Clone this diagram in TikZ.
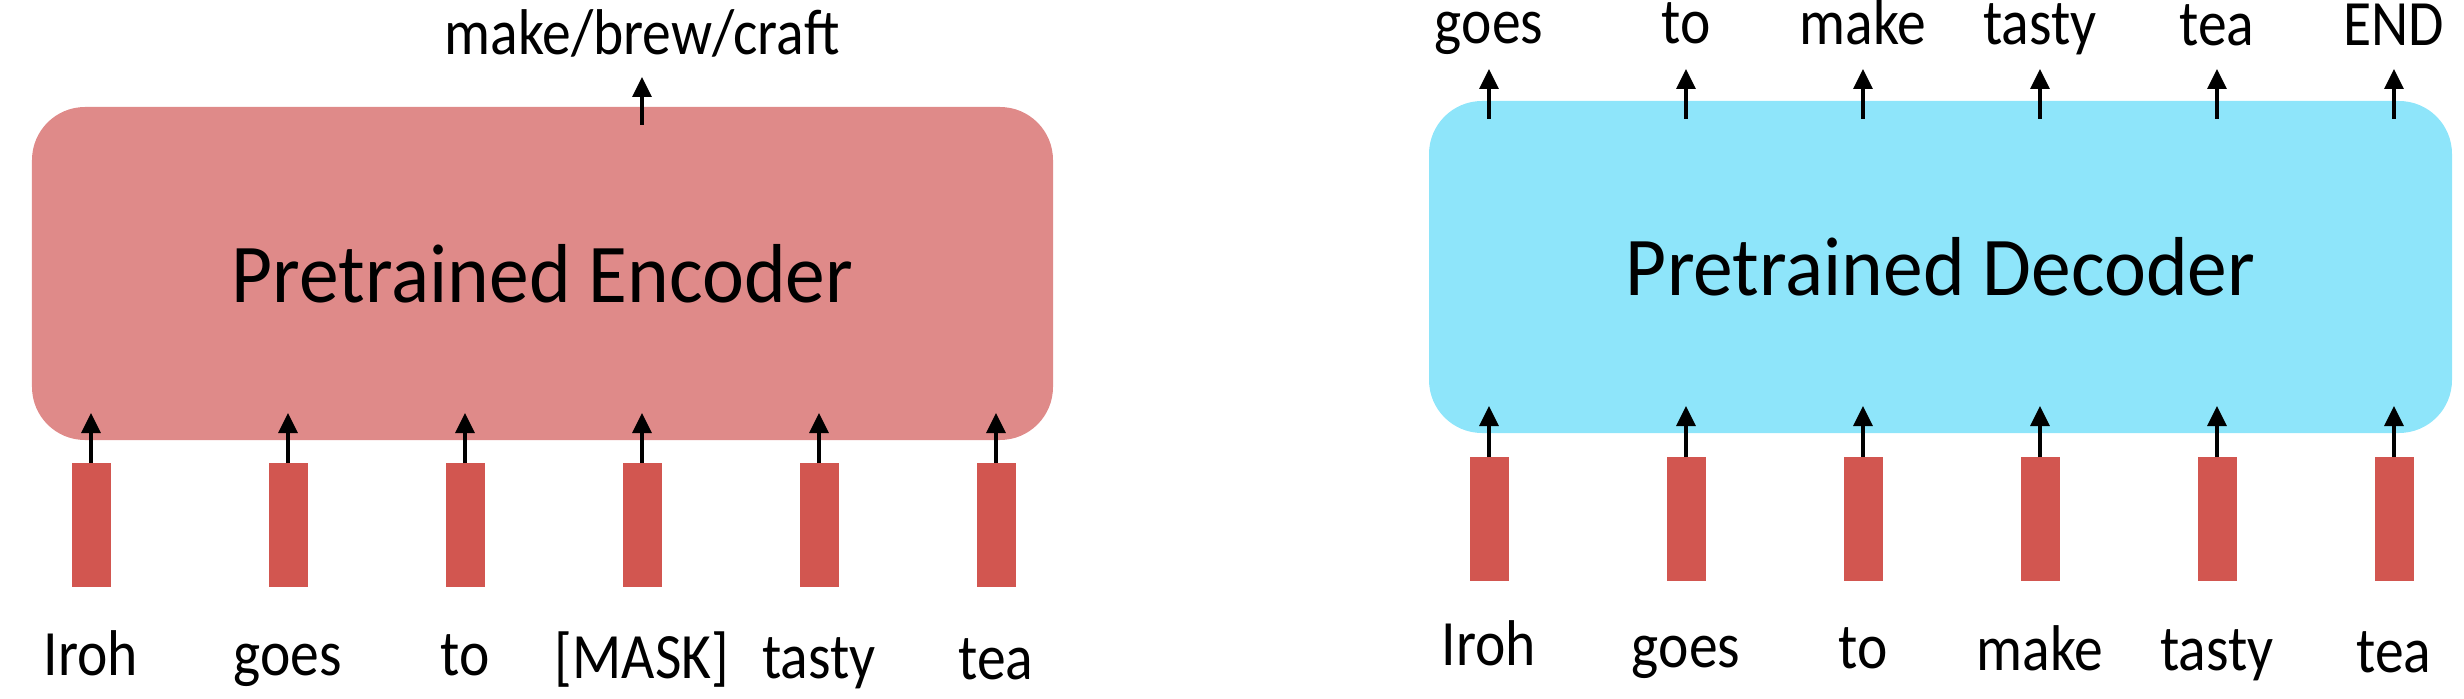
\documentclass[tikz,border=0pt]{standalone}
\usepackage{fontspec}
\setmainfont{Carlito}
\newfontfamily\tokfont[FakeStretch=0.89]{Carlito}
\newfontfamily\boxfont[FakeStretch=0.95]{Carlito}
\usepackage{xcolor}
\usepackage{tikz}
\usetikzlibrary{arrows.meta,positioning}

\definecolor{encpink}{RGB}{223,138,137}
\definecolor{decblue}{RGB}{142,229,250}
\definecolor{vecred}{RGB}{210,86,80}

\begin{document}
\begin{tikzpicture}[
      node distance=1.38cm,
      enc/.style={fill=encpink, rounded corners=0.53cm, inner sep=0pt, outer sep=0pt, minimum width=10.21cm, minimum height=3.33cm, font=\boxfont\fontsize{23.8}{27}\selectfont},
      dec/.style={enc, fill=decblue, minimum width=10.23cm, minimum height=3.32cm},
      vec/.style={fill=vecred, inner sep=0pt, outer sep=0pt, minimum width=0.39cm, minimum height=1.24cm},
      tok/.style={inner sep=0pt, anchor=base, font=\tokfont\fontsize{18.4}{21}\selectfont},
      arr/.style={-{Triangle[width=1.9mm, length=2mm]}, line width=0.95pt}
    ]
      \useasboundingbox (0,0) rectangle (24.64,6.98);

      % encoder side
      \node[enc] (enc) at (5.425,4.245) {Pretrained Encoder};
      \node[vec] (e1) at (0.91,1.73) {};
      \node[vec, right=1.58cm of e1] (e2) {};
      \node[vec, right=of e2] (e3) {};
      \node[vec, right=of e3] (e4) {};
      \node[vec, right=of e4] (e5) {};
      \node[vec, right=of e5] (e6) {};
      \node[tok] (ew1) at ([yshift=-8.8mm]e1.south) {Iroh};
      \node[tok] (ew2) at ([yshift=-8.8mm]e2.south) {goes};
      \node[tok] (ew3) at ([yshift=-8.8mm]e3.south) {to};
      \node[tok] (ew4) at ([yshift=-9.1mm]e4.south) {[MASK]};
      \node[tok] (ew5) at ([yshift=-9.1mm]e5.south) {tasty};
      \node[tok] (ew6) at ([yshift=-9.2mm]e6.south) {tea};
      \draw[arr, shorten >=-2.7mm] (e1) -- (e1 |- enc.south);
      \draw[arr, shorten >=-2.7mm] (e2) -- (e2 |- enc.south);
      \draw[arr, shorten >=-2.7mm] (e3) -- (e3 |- enc.south);
      \draw[arr, shorten >=-2.7mm] (e4) -- (e4 |- enc.south);
      \draw[arr, shorten >=-2.7mm] (e5) -- (e5 |- enc.south);
      \draw[arr, shorten >=-2.7mm] (e6) -- (e6 |- enc.south);
      \coordinate (eout) at ([yshift=3mm]e4 |- enc.north);
      \draw[arr, shorten <=-1.8mm] (e4 |- enc.north) -- (eout);
      \node[tok] (emask) at ([yshift=2.2mm]eout) {make/brew/craft};

      % decoder side
      \node[dec] (dec) at (19.405,4.31) {Pretrained Decoder};
      \node[vec] (d1) at (14.89,1.79) {};
      \node[vec, right=1.58cm of d1] (d2) {};
      \node[vec, right=of d2] (d3) {};
      \node[vec, right=of d3] (d4) {};
      \node[vec, right=of d4] (d5) {};
      \node[vec, right=of d5] (d6) {};
      \node[tok] (dw1) at ([yshift=-8.4mm]d1.south) {Iroh};
      \node[tok] (dw2) at ([yshift=-8.6mm]d2.south) {goes};
      \node[tok] (dw3) at ([yshift=-8.7mm]d3.south) {to};
      \node[tok] (dw4) at ([yshift=-8.9mm]d4.south) {make};
      \node[tok] (dw5) at ([yshift=-8.9mm]d5.south) {tasty};
      \node[tok] (dw6) at ([yshift=-9.1mm]d6.south) {tea};
      \draw[arr, shorten >=-2.7mm] (d1) -- (d1 |- dec.south);
      \draw[arr, shorten >=-2.7mm] (d2) -- (d2 |- dec.south);
      \draw[arr, shorten >=-2.7mm] (d3) -- (d3 |- dec.south);
      \draw[arr, shorten >=-2.7mm] (d4) -- (d4 |- dec.south);
      \draw[arr, shorten >=-2.7mm] (d5) -- (d5 |- dec.south);
      \draw[arr, shorten >=-2.7mm] (d6) -- (d6 |- dec.south);
      \coordinate (do1) at ([yshift=3.2mm]d1 |- dec.north);
      \coordinate (do2) at ([yshift=3.2mm]d2 |- dec.north);
      \coordinate (do3) at ([yshift=3.2mm]d3 |- dec.north);
      \coordinate (do4) at ([yshift=3.2mm]d4 |- dec.north);
      \coordinate (do5) at ([yshift=3.2mm]d5 |- dec.north);
      \coordinate (do6) at ([yshift=3.2mm]d6 |- dec.north);
      \draw[arr, shorten <=-1.8mm] (d1 |- dec.north) -- (do1);
      \draw[arr, shorten <=-1.8mm] (d2 |- dec.north) -- (do2);
      \draw[arr, shorten <=-1.8mm] (d3 |- dec.north) -- (do3);
      \draw[arr, shorten <=-1.8mm] (d4 |- dec.north) -- (do4);
      \draw[arr, shorten <=-1.8mm] (d5 |- dec.north) -- (do5);
      \draw[arr, shorten <=-1.8mm] (d6 |- dec.north) -- (do6);
      \node[tok] (dn1) at ([yshift=2.5mm]do1) {goes};
      \node[tok] (dn2) at ([yshift=2.5mm]do2) {to};
      \node[tok] (dn3) at ([yshift=2.4mm]do3) {make};
      \node[tok] (dn4) at ([yshift=2.4mm]do4) {tasty};
      \node[tok] (dn5) at ([yshift=2.3mm]do5) {tea};
      \node[tok] (dn6) at ([yshift=2.3mm]do6) {END};
    \end{tikzpicture}
\end{document}
